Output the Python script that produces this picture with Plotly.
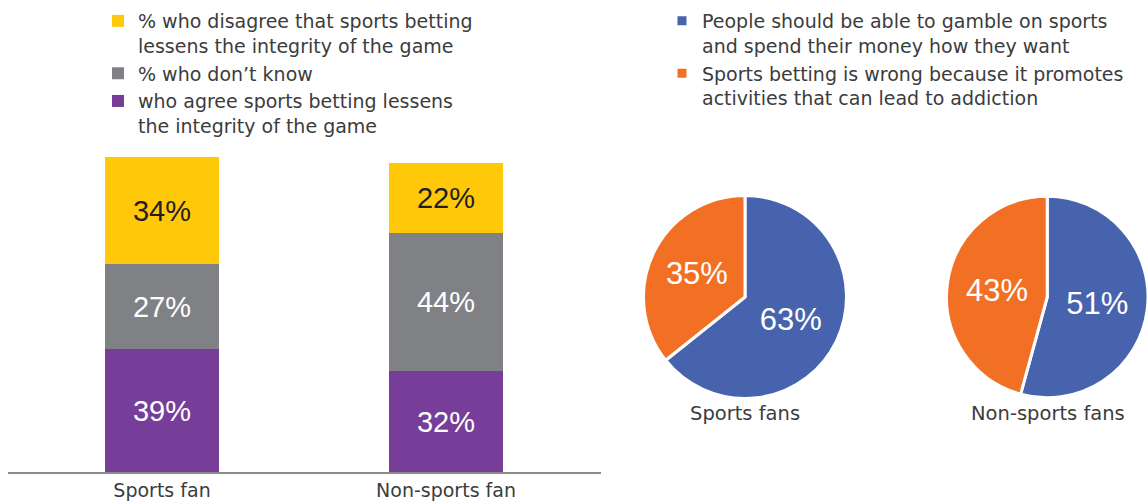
import plotly.graph_objects as go

# Stacked bar data: share of respondents by group
groups = ["Sports fan", "Non-sports fan"]
agree = [39, 32]
dont_know = [27, 44]
disagree = [34, 22]

bar_names = [
    "who agree sports betting lessens<br>the integrity of the game",
    "% who don’t know",
    "% who disagree that sports betting<br>lessens the integrity of the game",
]
bar_colors = ["#763e98", "#808184", "#ffc90a"]
bar_text_colors = ["#ffffff", "#ffffff", "#231f20"]

# Pie data: attitudes towards sports betting
pie_labels = [
    "People should be able to gamble on sports<br>and spend their money how they want",
    "Sports betting is wrong because it promotes<br>activities that can lead to addiction",
]
pie_colors = ["#4763ae", "#f27024"]
sports_fans_pie = [63, 35]
non_sports_fans_pie = [51, 43]
pie_titles = ["Sports fans", "Non-sports fans"]

TEXT_FONT = "DejaVu Sans, Verdana, sans-serif"
NUM_FONT = "Liberation Sans, Arial, sans-serif"
TEXT_COLOR = "#3c3c3c"
W, H = 1148, 504


def px_x(x):
    return min(max(x / W, 0), 1)


def px_y(y):
    return min(max(1 - y / H, 0), 1)


fig = go.Figure()

for name, vals, col, tcol in zip(bar_names, [agree, dont_know, disagree], bar_colors, bar_text_colors):
    fig.add_trace(go.Bar(
        x=groups, y=vals, name=name,
        marker=dict(color=col, line=dict(width=0)),
        width=0.401,
        texttemplate="%{y}%", textposition="inside", insidetextanchor="middle",
        textfont=dict(family=NUM_FONT, size=29, color=tcol),
        legend="legend",
        hoverinfo="skip",
    ))

pie_boxes = [(645, 845), (948, 1148)]
for vals, (x0, x1) in zip([sports_fans_pie, non_sports_fans_pie], pie_boxes):
    fig.add_trace(go.Pie(
        labels=pie_labels, values=vals,
        marker=dict(colors=pie_colors, line=dict(color="#ffffff", width=3)),
        sort=False, direction="clockwise", rotation=0,
        texttemplate="%{value}%", textposition="inside",
        insidetextorientation="horizontal",
        textfont=dict(family=NUM_FONT, size=31, color="#ffffff"),
        domain=dict(x=[px_x(x0 - 1.5), px_x(x1 + 1.5)], y=[px_y(398.5), px_y(195.5)]),
        legend="legend2",
        hoverinfo="skip",
    ))

for title, (x0, x1) in zip(pie_titles, pie_boxes):
    fig.add_annotation(
        x=px_x((x0 + x1) / 2), y=px_y(413), xref="paper", yref="paper",
        text=title, showarrow=False, xanchor="center", yanchor="middle",
        font=dict(family=TEXT_FONT, size=19.5, color=TEXT_COLOR),
    )

fig.update_layout(
    width=W, height=H,
    margin=dict(l=0, r=0, t=0, b=0),
    paper_bgcolor="#ffffff", plot_bgcolor="#ffffff",
    barmode="stack", bargap=0,
    font=dict(family=TEXT_FONT, size=19, color=TEXT_COLOR),
    xaxis=dict(
        domain=[px_x(8), px_x(601)],
        range=[-0.5423, 1.5458],
        showline=True, linecolor="#8c8c8c", linewidth=2,
        ticks="", showgrid=False, zeroline=False,
        tickfont=dict(family=TEXT_FONT, size=19, color=TEXT_COLOR),
    ),
    yaxis=dict(
        domain=[px_y(472), px_y(157)],
        range=[0, 100],
        visible=False, showgrid=False, zeroline=False,
    ),
    legend=dict(
        x=px_x(98), y=px_y(2), xanchor="left", yanchor="top",
        traceorder="reversed", valign="top",
        font=dict(family=TEXT_FONT, size=19, color=TEXT_COLOR),
        bgcolor="rgba(0,0,0,0)", itemclick=False, itemdoubleclick=False,
    ),
    legend2=dict(
        x=px_x(662), y=px_y(2), xanchor="left", yanchor="top",
        traceorder="normal", valign="top",
        font=dict(family=TEXT_FONT, size=19, color=TEXT_COLOR),
        bgcolor="rgba(0,0,0,0)", itemclick=False, itemdoubleclick=False,
    ),
    showlegend=True,
)

fig.write_html("out.html")
